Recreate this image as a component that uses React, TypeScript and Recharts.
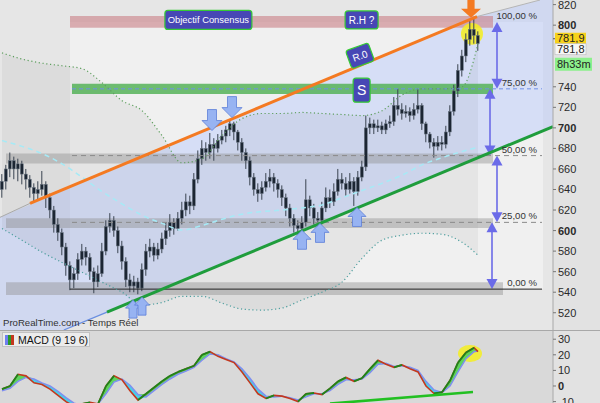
import React from 'react';
import { ComposedChart, Bar, Line, Area, XAxis, YAxis, ReferenceArea, ReferenceLine, ReferenceDot } from 'recharts';

const FONT = '"Liberation Sans", Arial, Helvetica, sans-serif';

// ---------- price candles (index i is candle i) ----------
const opens = [
  640, 648, 660, 668, 660, 665, 655, 650, 642, 636,
  640, 645, 632, 620, 606, 598, 584, 566, 552, 558,
  572, 580, 574, 560, 550, 558, 580, 604, 610, 600,
  585, 570, 552, 546, 550, 544, 562, 580, 584, 576,
  582, 592, 600, 608, 602, 612, 620, 628, 624, 650,
  670, 680, 676, 684, 680, 688, 692, 698, 704, 696,
  686, 676, 668, 652, 640, 636, 642, 648, 652, 646,
  640, 632, 622, 612, 605, 602, 608, 630, 622, 612,
  610, 622, 632, 628, 638, 650, 646, 640, 648, 638,
  652, 662, 700, 704, 700, 702, 698, 704, 706, 722,
  718, 714, 716, 712, 718, 722, 704, 694, 686, 682,
  686, 684, 696, 716, 736, 756, 770, 786, 796, 790,
];
const highs = [
  655, 664, 676, 672, 670, 668, 660, 654, 646, 648,
  658, 648, 636, 624, 612, 602, 588, 570, 564, 578,
  587, 584, 578, 564, 566, 588, 610, 617, 614, 604,
  590, 574, 558, 556, 554, 568, 587, 592, 588, 588,
  598, 608, 616, 612, 618, 628, 636, 634, 656, 678,
  688, 686, 695, 690, 694, 698, 702, 708, 706, 698,
  690, 680, 672, 656, 646, 648, 656, 660, 656, 650,
  644, 636, 626, 616, 610, 614, 650, 634, 626, 618,
  628, 642, 640, 646, 660, 656, 652, 656, 652, 658,
  668, 712, 710, 708, 708, 706, 708, 712, 730, 738,
  724, 722, 720, 724, 738, 724, 706, 696, 690, 692,
  692, 702, 722, 742, 762, 776, 792, 804, 806, 794,
];
const lows = [
  632, 640, 652, 650, 648, 645, 640, 632, 628, 630,
  634, 622, 612, 598, 590, 576, 556, 542, 544, 552,
  566, 566, 552, 539, 545, 555, 576, 598, 594, 578,
  562, 545, 540, 540, 538, 541, 556, 574, 570, 572,
  578, 586, 594, 596, 600, 606, 614, 616, 620, 646,
  664, 668, 670, 668, 676, 684, 686, 692, 688, 678,
  668, 660, 644, 634, 628, 630, 638, 642, 638, 632,
  624, 614, 604, 598, 596, 598, 604, 614, 606, 602,
  606, 618, 622, 624, 634, 640, 634, 636, 624, 634,
  648, 658, 694, 694, 696, 694, 694, 700, 702, 712,
  708, 710, 706, 708, 714, 698, 686, 680, 671, 678,
  678, 680, 692, 712, 730, 750, 764, 780, 782, 775,
];
const closes = [
  648, 660, 668, 660, 665, 655, 650, 642, 636, 640,
  645, 632, 620, 606, 598, 584, 566, 552, 558, 572,
  580, 574, 560, 550, 558, 580, 604, 610, 600, 585,
  570, 552, 546, 550, 544, 562, 580, 584, 576, 582,
  592, 600, 608, 602, 612, 620, 628, 624, 650, 670,
  680, 676, 684, 680, 688, 692, 698, 704, 696, 686,
  676, 668, 652, 640, 636, 642, 648, 652, 646, 640,
  632, 622, 612, 605, 602, 608, 630, 622, 612, 610,
  622, 632, 628, 638, 650, 646, 640, 648, 638, 652,
  662, 700, 704, 700, 702, 698, 704, 706, 722, 718,
  714, 716, 712, 718, 722, 704, 694, 686, 682, 686,
  684, 696, 716, 736, 756, 770, 786, 796, 790, 782,
];

// ---------- overlays sampled at candle indices ----------
const curveIdx = [0, 5, 10, 15, 20, 25, 30, 35, 40, 45, 50, 55, 60, 65, 70, 75, 80, 85, 90, 95, 100, 105, 110, 115, 119];
const bbUpper = [773, 767, 763, 760.5, 757.6, 744, 726.5, 716.8, 692.5, 666, 670, 692.5, 709, 714, 714, 715, 714, 713, 712, 716.7, 732, 738, 738, 740, 782];
const bbLower = [602, 590.6, 579, 569, 559.5, 549.8, 540, 527.5, 530, 536, 536, 529.4, 523.6, 522.6, 524.6, 532.5, 540, 549.8, 573, 590.6, 595.5, 597.4, 596.4, 588.6, 576];
const maLine = [687.6, 682, 675, 665, 652, 638, 626, 615, 607, 600.5, 605, 611, 616, 618.5, 620, 622, 625, 632, 639, 646, 654, 664, 671, 677, 681];

// ---------- MACD (9 19 6) ----------
const macdIdx = [0, 2, 4, 6, 8, 10, 12, 14, 16, 18, 20, 22, 24, 26, 28, 30, 32, 34, 36, 38, 40, 42, 44, 46, 48, 50, 52, 54, 56, 58, 60, 62, 64, 66, 68, 70, 72, 74, 76, 78, 80, 82, 84, 86, 88, 90, 92, 94, 96, 98, 100, 102, 104, 106, 108, 110, 112, 114, 116, 118, 119];
const macdLine = [-2, 0, 7.5, 6.5, 2, 1, -2, -6, -10, -13, -11.5, -10.5, -11.5, 0, 6.5, 4, -3, -9, -5, -1, 3, 6.5, 9, 11, 13, 20, 22, 19, 17, 15, 9, 2, -5, -8, -6, -6.5, -8, -10, -5, -4.5, -5.5, -1.5, 3, 5.5, 3, 5, 11, 16.5, 14, 12, 13.5, 11, 9, 0, -4.8, -4, 3.5, 15, 21.5, 24.5, 22];
const signalLine = [-3, -1.5, 3, 5.5, 4.5, 2, 0, -3.5, -7.5, -11, -12.5, -12, -11.5, -5, 2.5, 4.5, 0.5, -5.5, -7, -3, 1, 4.5, 7.5, 9.5, 12, 16.5, 20.5, 20, 17.5, 15.5, 11, 5, -2, -6.5, -7, -6.5, -7.5, -9, -7, -5, -5, -3, 1, 4, 4, 4.5, 8.5, 14, 14.5, 12.5, 13, 12, 10, 3, -2.5, -4.2, 0, 9, 17.5, 22, 22.5];

// ---------- axes ----------
const priceTicks = [820, 800, 740, 720, 700, 680, 660, 640, 620, 600, 580, 560, 540, 520];
const boldPriceTicks = [800, 700, 600];
const macdTicks = [30, 20, 10, 0, -10];

// ---------- Fibonacci retracement ----------
const fibLevels = [543, 608, 673, 738, 803];
const fibLabels = ['0,00 %', '25,00 %', '50,00 %', '75,00 %', '100,00 %'];

const lastPrice = 781.9;
const lastPriceText = '781,9';
const prevPriceText = '781,8';
const timerText = '8h33m';

// domains (candle-index units / price)
const X_MAX = 138.25;
const P_MIN = 503.2;
const P_MAX = 824.5;
const M_MIN = -10.9;
const M_MAX = 35.26;

// ---------- drawn objects (index, price) ----------
const orangeTrend = [{ x: 7.5, y: 626.5 }, { x: 119.25, y: 808.4 }];
const topThinLeft = [{ x: 0, y: 612.9 }, { x: 7.5, y: 626.5 }];
const topThinRight = [{ x: 119.25, y: 808.4 }, { x: 135, y: 824.5 }];
const greenTrend = [{ x: 26.75, y: 520.7 }, { x: 138.25, y: 701.3 }];
const blueThin = [{ x: 15.95, y: 503.2 }, { x: 26.75, y: 520.7 }];
const channelPts: [number, number][] = [[0, 612.9], [119.25, 808.4], [135, 824.5], [138.25, 824.5], [138.25, 701.3], [15.95, 503.2], [0, 503.2]];
const macdTrend = [{ x: 82.5, y: -11.3 }, { x: 118.25, y: -3.8 }];

const downArrows = [{ x: 53, y: 697.4 }, { x: 58, y: 710 }];
const upArrows = [{ x: 75.5, y: 600.3 }, { x: 80, y: 607 }, { x: 89.25, y: 622.5 }];
const smallUpArrows = [{ x: 33.25, y: 532.3 }, { x: 35.5, y: 535.2 }];
const orangeArrow = { x: 117.75, y: 807.1 };

const fibArrows = [
  { x: 124.25, lo: 738, hi: 803 },
  { x: 122.5, lo: 673, hi: 738 },
  { x: 124.25, lo: 608, hi: 673 },
  { x: 123, lo: 543, hi: 608 },
];

const tags = [
  { text: 'Objectif Consensus', x: 52.1, y: 805.1 },
  { text: 'R.H ?', x: 90.4, y: 805.1 },
  { text: 'R.0', x: 90, y: 770.2 },
  { text: 'S', x: 90.4, y: 736.7 },
];
const tagStyle: Record<string, { w: number; h: number; fs: number; rot: number }> = {
  'Objectif Consensus': { w: 87, h: 19, fs: 9.4, rot: 0 },
  'R.H ?': { w: 33, h: 18, fs: 10, rot: 0 },
  'R.0': { w: 24, h: 19, fs: 10, rot: -20 },
  'S': { w: 17, h: 24, fs: 14, rot: 0 },
};

// ---------- tables for the library ----------
const mainData = closes.map((c, i) => {
  const row: any = { x: i + 0.5, o: opens[i], h: highs[i], l: lows[i], c };
  const k = curveIdx.indexOf(i);
  if (k >= 0) {
    row.bbR = [bbLower[k], bbUpper[k]];
  }
  return row;
});

const curveData = curveIdx.map((i, k) => ({ x: i + 0.5, bbU: bbUpper[k], bbL: bbLower[k], ma: maLine[k] }));

const macdData = macdIdx.map((i, k) => {
  const m = macdLine[k];
  const s = signalLine[k];
  return { x: i + 0.5, m, s, gF: [s, Math.max(m, s)], cF: [Math.min(m, s), s] };
});

const risingSegs = macdData.slice(1).map((d, k) => ({ a: macdData[k], b: d })).filter((p) => p.b.m > p.a.m);

// ---------- shapes ----------
const Candle = (props: any) => {
  const { x, y, width, height, payload } = props;
  if (!payload || height == null || isNaN(y)) return null;
  const top = Math.min(y, y + height);
  const hgt = Math.abs(height);
  const span = payload.h - payload.l || 1;
  const py = (p: number) => top + ((payload.h - p) / span) * hgt;
  const cx = x + width / 2;
  const b1 = py(Math.max(payload.o, payload.c));
  const b2 = py(Math.min(payload.o, payload.c));
  return (
    <g>
      <line x1={cx} x2={cx} y1={top} y2={top + hgt} stroke="#3a4450" strokeWidth={1} />
      <rect x={cx - 1.5} y={b1} width={3} height={Math.max(1, b2 - b1)} fill="#1c2633" stroke="#6f7a87" strokeWidth={0.5} />
    </g>
  );
};

const ChannelShape = (props: any) => {
  const { x, y, width, height } = props;
  const pts = channelPts
    .map(([a, b]) => `${x + (a / X_MAX) * width},${y + ((P_MAX - b) / (P_MAX - P_MIN)) * height}`)
    .join(' ');
  return <polygon points={pts} fill="#aec4ff" fillOpacity={0.4} />;
};

const EllipseShape = (props: any) => {
  const { x, y, width, height } = props;
  return <ellipse cx={x + width / 2} cy={y + height / 2} rx={width / 2} ry={height / 2} fill="#f4ef1e" fillOpacity={0.85} />;
};

const DoubleArrow = (props: any) => {
  const { x, y, width, height } = props;
  const cx = x + width / 2;
  const t = y;
  const b = y + height;
  const c = '#6b6be8';
  return (
    <g>
      <line x1={cx} x2={cx} y1={t + 8} y2={b - 8} stroke={c} strokeWidth={1.6} />
      <polygon points={`${cx},${t} ${cx - 5.5},${t + 10} ${cx + 5.5},${t + 10}`} fill={c} />
      <polygon points={`${cx},${b} ${cx - 5.5},${b - 10} ${cx + 5.5},${b - 10}`} fill={c} />
    </g>
  );
};

const blockArrow = (cx: number, cy: number, dir: number, H: number, hh: number, hw: number, sw: number, fill: string, stroke: string) => {
  const d = dir; // 1 = pointing down, -1 = pointing up
  const pts = [
    [cx, cy],
    [cx - hw, cy - d * hh],
    [cx - sw, cy - d * hh],
    [cx - sw, cy - d * H],
    [cx + sw, cy - d * H],
    [cx + sw, cy - d * hh],
    [cx + hw, cy - d * hh],
  ]
    .map((p) => p.join(','))
    .join(' ');
  return <polygon points={pts} fill={fill} stroke={stroke} strokeWidth={stroke === 'none' ? 0 : 0.8} />;
};

const TagShape = (text: string) => (props: any) => {
  const { cx, cy } = props;
  const st = tagStyle[text];
  return (
    <g transform={`rotate(${st.rot} ${cx} ${cy})`}>
      <rect x={cx - st.w / 2} y={cy - st.h / 2} width={st.w} height={st.h} rx={3} fill="#4747b5" stroke="#35c935" strokeWidth={1.2} />
      <text x={cx} y={cy} dy="0.36em" textAnchor="middle" fill="#ffffff" fontSize={st.fs} fontFamily={FONT}>
        {text}
      </text>
    </g>
  );
};

const FibLabel = (text: string) => (props: any) => {
  const { cx, cy } = props;
  return (
    <text x={cx} y={cy - 3} textAnchor="end" fill="#333" fontSize={9.6} fontFamily={FONT}>
      {text}
    </text>
  );
};

const AxisBoxes = (props: any) => {
  const { cx, cy } = props;
  const x0 = cx + 2;
  return (
    <g fontFamily={FONT} fontSize={11}>
      <line x1={cx} x2={cx + 3} y1={cy - 5} y2={cy - 5} stroke="#555" />
      <rect x={x0} y={cy - 11} width={31} height={11} fill="#f7d21c" />
      <text x={x0 + 2} y={cy - 1.5} fill="#222">{lastPriceText}</text>
      <rect x={x0} y={cy} width={31} height={11} fill="#f6f6f6" stroke="#bbb" strokeWidth={0.6} />
      <text x={x0 + 2} y={cy + 9.5} fill="#222">{prevPriceText}</text>
      <rect x={x0} y={cy + 14} width={37} height={13} fill="#8cf08c" />
      <text x={x0 + 2} y={cy + 24.5} fill="#222">{timerText}</text>
    </g>
  );
};

const PriceTick = (props: any) => {
  const { x, y, payload } = props;
  const bold = boldPriceTicks.includes(payload.value);
  return (
    <text x={x} y={y} dy={4} fontSize={11} fontWeight={bold ? 700 : 400} fill="#2a2a2a" fontFamily={FONT}>
      {payload.value}
    </text>
  );
};

const MacdTick = (props: any) => {
  const { x, y, payload } = props;
  return (
    <text x={x} y={y} dy={4} fontSize={11} fontWeight={payload.value === 0 ? 700 : 400} fill="#2a2a2a" fontFamily={FONT}>
      {payload.value}
    </text>
  );
};

export default function App() {
  return (
    <div style={{ position: 'absolute', left: 0, top: 0, width: 600, height: 403, background: '#e6e6e6', overflow: 'hidden', fontFamily: FONT }}>
      <div style={{ position: 'absolute', left: 0, top: 331, width: 553, height: 72, background: '#d9d9d9' }} />
      <div style={{ position: 'absolute', left: 553, top: 0, width: 47, height: 403, background: '#e2e2e2' }} />

      <div style={{ position: 'absolute', left: 0, top: 0 }}>
        <ComposedChart width={600} height={330} data={mainData} margin={{ top: 0, right: 0, bottom: 0, left: 0 }}>
          <XAxis type="number" dataKey="x" domain={[0, X_MAX]} hide allowDataOverflow />
          <YAxis
            orientation="right"
            width={47}
            domain={[P_MIN, P_MAX]}
            ticks={priceTicks}
            allowDataOverflow
            interval={0}
            tick={PriceTick}
            tickSize={3}
            tickMargin={2}
            axisLine={{ stroke: '#a8a8a8' }}
            tickLine={{ stroke: '#777' }}
          />

          <ReferenceArea x1={17.5} x2={135.75} y1={fibLevels[0]} y2={fibLevels[4]} fill="#ffffff" fillOpacity={0.4} stroke="none" ifOverflow="hidden" />
          <ReferenceArea x1={0} x2={X_MAX} y1={P_MIN} y2={P_MAX} shape={ChannelShape} ifOverflow="hidden" />

          <Area dataKey="bbR" type="monotone" connectNulls stroke="none" fill="#000" fillOpacity={0.045} dot={false} activeDot={false} isAnimationActive={false} />

          <ReferenceArea x1={17.5} x2={123.25} y1={797.5} y2={809} fill="#c97f86" fillOpacity={0.6} stroke="none" ifOverflow="hidden" />
          <ReferenceArea x1={18} x2={123.25} y1={733} y2={743} fill="#4caf50" fillOpacity={0.8} stroke="none" ifOverflow="hidden" />
          <ReferenceArea x1={1.5} x2={123.25} y1={665.3} y2={675} fill="#8c8c8c" fillOpacity={0.42} stroke="none" ifOverflow="hidden" />
          <ReferenceArea x1={1.5} x2={123.25} y1={602.4} y2={612} fill="#8c8c8c" fillOpacity={0.42} stroke="none" ifOverflow="hidden" />
          <ReferenceArea x1={1.5} x2={125.75} y1={537.2} y2={549.8} fill="#8c8c8c" fillOpacity={0.42} stroke="none" ifOverflow="hidden" />

          <ReferenceLine segment={[{ x: 18, y: fibLevels[3] }, { x: 135.5, y: fibLevels[3] }]} stroke="#6f8fe6" strokeDasharray="4 3" strokeWidth={1} ifOverflow="hidden" />
          <ReferenceLine segment={[{ x: 18, y: fibLevels[2] }, { x: 135.5, y: fibLevels[2] }]} stroke="#8a8a8a" strokeDasharray="5 4" strokeWidth={1} ifOverflow="hidden" />
          <ReferenceLine segment={[{ x: 18, y: fibLevels[1] }, { x: 135.5, y: fibLevels[1] }]} stroke="#8a8a8a" strokeDasharray="5 4" strokeWidth={1} ifOverflow="hidden" />
          <ReferenceLine segment={[{ x: 17.5, y: fibLevels[0] }, { x: 135.5, y: fibLevels[0] }]} stroke="#222" strokeWidth={1} ifOverflow="hidden" />

          <Line data={curveData} dataKey="bbU" type="monotone" dot={false} activeDot={false} stroke="#5e9f5e" strokeWidth={1.2} strokeDasharray="1.2 2.6" isAnimationActive={false} />
          <Line data={curveData} dataKey="bbL" type="monotone" dot={false} activeDot={false} stroke="#4f9f9f" strokeWidth={1.2} strokeDasharray="1.2 2.6" isAnimationActive={false} />
          <Line data={curveData} dataKey="ma" type="monotone" dot={false} activeDot={false} stroke="#a6eaf6" strokeWidth={1.5} strokeDasharray="5 4" isAnimationActive={false} />

          <ReferenceArea x1={115.25} x2={120.75} y1={780.9} y2={802.2} shape={EllipseShape} ifOverflow="visible" />

          <Bar dataKey={(d: any) => [d.l, d.h]} barSize={4} shape={Candle} isAnimationActive={false} />

          <ReferenceLine segment={topThinLeft} stroke="#a9a9a9" strokeWidth={1} ifOverflow="hidden" />
          <ReferenceLine segment={topThinRight} stroke="#b5b5b5" strokeWidth={1} ifOverflow="hidden" />
          <ReferenceLine segment={orangeTrend} stroke="#f47a22" strokeWidth={3} ifOverflow="hidden" />
          <ReferenceLine segment={blueThin} stroke="#6a8fe2" strokeWidth={1.3} ifOverflow="hidden" />
          <ReferenceLine segment={greenTrend} stroke="#1f9d3c" strokeWidth={3} ifOverflow="hidden" />

          {fibArrows.map((a, i) => (
            <ReferenceArea key={'fa' + i} x1={a.x - 0.5} x2={a.x + 0.5} y1={a.lo} y2={a.hi} shape={DoubleArrow} ifOverflow="visible" />
          ))}

          {downArrows.map((a, i) => (
            <ReferenceDot key={'da' + i} x={a.x} y={a.y} r={1} ifOverflow="visible" shape={(p: any) => blockArrow(p.cx, p.cy, 1, 21, 10, 10, 4.5, '#97b3f2', '#5d7fd8')} />
          ))}
          {upArrows.map((a, i) => (
            <ReferenceDot key={'ua' + i} x={a.x} y={a.y} r={1} ifOverflow="visible" shape={(p: any) => blockArrow(p.cx, p.cy, -1, 19, 9, 9, 4.5, '#97b3f2', '#5d7fd8')} />
          ))}
          {smallUpArrows.map((a, i) => (
            <ReferenceDot key={'sa' + i} x={a.x} y={a.y} r={1} ifOverflow="visible" shape={(p: any) => blockArrow(p.cx, p.cy, -1, 18, 8, 7.5, 4, '#97b3f2', '#5d7fd8')} />
          ))}
          <ReferenceDot x={orangeArrow.x} y={orangeArrow.y} r={1} ifOverflow="visible" shape={(p: any) => blockArrow(p.cx, p.cy, 1, 18, 9, 10, 3.6, '#f47a22', 'none')} />

          {tags.map((t) => (
            <ReferenceDot key={t.text} x={t.x} y={t.y} r={1} ifOverflow="visible" shape={TagShape(t.text)} />
          ))}

          {fibLevels.map((lv, i) => (
            <ReferenceDot key={'fl' + i} x={134.25} y={lv} r={1} ifOverflow="visible" shape={FibLabel(fibLabels[i])} />
          ))}

          <ReferenceDot x={X_MAX} y={lastPrice} r={1} ifOverflow="visible" shape={AxisBoxes} />
        </ComposedChart>
      </div>

      <div style={{ position: 'absolute', left: 0, top: 330, width: 600, height: 1, background: '#a8a8a8' }} />

      <div style={{ position: 'absolute', left: 0, top: 331 }}>
        <ComposedChart width={600} height={72} data={macdData} margin={{ top: 0, right: 0, bottom: 0, left: 0 }}>
          <XAxis type="number" dataKey="x" domain={[0, X_MAX]} hide allowDataOverflow />
          <YAxis
            orientation="right"
            width={47}
            domain={[M_MIN, M_MAX]}
            ticks={macdTicks}
            allowDataOverflow
            interval={0}
            tick={MacdTick}
            tickSize={3}
            tickMargin={2}
            axisLine={{ stroke: '#a8a8a8' }}
            tickLine={{ stroke: '#777' }}
          />
          <ReferenceArea x1={114.5} x2={120.5} y1={15.4} y2={26.3} shape={EllipseShape} ifOverflow="visible" />
          <Area dataKey="gF" type="linear" stroke="none" fill="#55d455" fillOpacity={0.95} dot={false} activeDot={false} isAnimationActive={false} />
          <Area dataKey="cF" type="linear" stroke="none" fill="#3ed2ea" fillOpacity={0.95} dot={false} activeDot={false} isAnimationActive={false} />
          <Line dataKey="s" type="linear" dot={false} activeDot={false} stroke="#7f8ff0" strokeWidth={1.5} isAnimationActive={false} />
          <Line dataKey="m" type="linear" dot={false} activeDot={false} stroke="#c4381e" strokeWidth={1.6} isAnimationActive={false} />
          {risingSegs.map((sg, i) => (
            <ReferenceLine key={'rs' + i} segment={[{ x: sg.a.x, y: sg.a.m }, { x: sg.b.x, y: sg.b.m }]} stroke="#1b861b" strokeWidth={1.8} ifOverflow="hidden" />
          ))}
          <ReferenceLine segment={macdTrend} stroke="#22c022" strokeWidth={2.6} ifOverflow="hidden" />
        </ComposedChart>
      </div>

      <div style={{ position: 'absolute', left: 3, top: 317, fontSize: 9.6, color: '#333', whiteSpace: 'nowrap' }}>ProRealTime.com - Temps Réel</div>

      <div style={{ position: 'absolute', left: 2, top: 332, width: 86, height: 13, background: '#ececec', border: '1px solid #c2c2c2', display: 'flex', alignItems: 'center' }}>
        <div style={{ width: 9, height: 10, marginLeft: 2, display: 'flex' }}>
          <div style={{ width: 3, height: 10, background: '#6f7ff0' }} />
          <div style={{ width: 3, height: 10, background: '#2a9a2a' }} />
          <div style={{ width: 3, height: 10, background: '#c4381e' }} />
        </div>
        <span style={{ fontSize: 10.5, color: '#111', marginLeft: 4, whiteSpace: 'nowrap' }}>MACD (9 19 6)</span>
      </div>
    </div>
  );
}
